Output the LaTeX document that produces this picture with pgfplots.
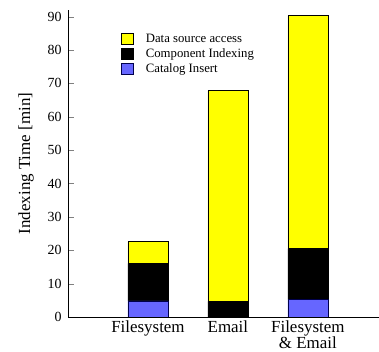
\documentclass[border=0pt]{standalone}
\usepackage{pgfplots}
\pgfplotsset{compat=1.18}
\usepackage{fontspec}
\setmainfont{Liberation Serif}
\definecolor{cyel}{HTML}{FFFF00}
\definecolor{cblu}{HTML}{6666FF}
\begin{document}
\begin{tikzpicture}
\begin{axis}[
  name=ax,
  scale only axis,
  width=311bp, height=307bp,
  xmin=0, xmax=3.89, ymin=0, ymax=92,
  axis x line=bottom, axis y line=left,
  axis line style={-, line width=0.8pt},
  ybar stacked, bar width=40bp,
  xtick={1,2,3},
  xticklabels={Filesystem, Email, {Filesystem\\\& Email}},
  xticklabel style={align=center, font=\fontsize{17}{15}\selectfont, inner ysep=1bp, yshift=-2.5bp},
  x tick style={draw=none},
  ytick={0,10,...,90},
  yticklabel={\pgfmathprintnumber[assume math mode=true]{\tick}},
  yticklabel style={font=\fontsize{14}{14}\selectfont, xshift=-3bp},
  tick align=inside, major tick length=6bp,
  ylabel={Indexing Time [min]},
  ylabel style={font=\fontsize{17}{17}\selectfont, yshift=7bp},
  legend cell align=left,
  reverse legend,
  legend style={draw=none, fill=none, at={(0.161,0.935)}, anchor=north west,
    font=\fontsize{12.8}{14}\selectfont, row sep=0.5bp},
  legend image code/.code={\draw[#1] (0bp,-5.5bp) rectangle (12bp,5.5bp); \path (22bp,0bp);},
]
\addplot[fill=cblu, draw=black!70!blue, line width=0.6pt] coordinates {(1,4.8) (2,0) (3,5.2)};
\addplot[fill=black, draw=black, line width=0.6pt] coordinates {(1,11.3) (2,4.7) (3,15.3)};
\addplot[fill=cyel, draw=black, line width=0.6pt] coordinates {(1,6.5) (2,63.1) (3,69.8)};
\legend{Catalog Insert, Component Indexing, Data source access}
\end{axis}
\pgfresetboundingbox
\path[use as bounding box] ([xshift=-68bp,yshift=-35bp]ax.south west) rectangle ([yshift=10bp]ax.north east);
\end{tikzpicture}
\end{document}
